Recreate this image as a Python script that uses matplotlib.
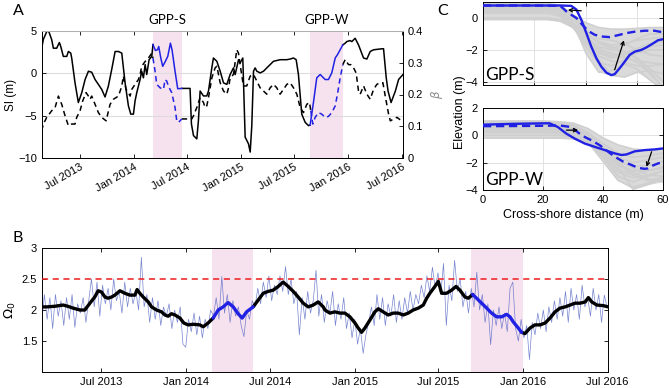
import numpy as np
import matplotlib
matplotlib.use('Agg')
import matplotlib.pyplot as plt
import matplotlib.dates as mdates
from matplotlib.transforms import blended_transform_factory
import datetime as dt

# ---------------- Panel A data (decimal years) ----------------
si_year = [2013.142, 2013.158, 2013.189, 2013.205, 2013.220, 2013.236, 2013.251, 2013.282, 2013.307, 2013.320,
           2013.344, 2013.376, 2013.391, 2013.413, 2013.422, 2013.453, 2013.484, 2013.516, 2013.547, 2013.578,
           2013.609, 2013.640, 2013.671, 2013.702, 2013.733, 2013.764, 2013.795, 2013.827, 2013.858, 2013.889,
           2013.920, 2013.951, 2013.973, 2013.998, 2014.013, 2014.029, 2014.060, 2014.075, 2014.091, 2014.107,
           2014.122, 2014.144, 2014.169,
           2014.180, 2014.203, 2014.222, 2014.234, 2014.253, 2014.271, 2014.296, 2014.318, 2014.343, 2014.358,
           2014.386, 2014.411, 2014.449,
           2014.526, 2014.539, 2014.558, 2014.589, 2014.604, 2014.620, 2014.651, 2014.682, 2014.698, 2014.729,
           2014.744, 2014.776, 2014.807, 2014.838, 2014.869, 2014.900, 2014.931, 2014.947, 2014.978, 2014.993,
           2015.018, 2015.040, 2015.071, 2015.087, 2015.102, 2015.118, 2015.133, 2015.149, 2015.180, 2015.211,
           2015.242, 2015.273, 2015.304, 2015.366, 2015.429, 2015.460, 2015.491, 2015.516, 2015.537, 2015.568,
           2015.600, 2015.631,
           2015.646, 2015.677, 2015.708, 2015.740, 2015.786, 2015.817, 2015.848, 2015.880, 2015.901, 2015.951,
           2015.973, 2015.988, 2016.019, 2016.035, 2016.066, 2016.097, 2016.144, 2016.175, 2016.206, 2016.237,
           2016.315, 2016.330, 2016.355, 2016.372, 2016.400, 2016.440, 2016.470, 2016.511]
si_value = [2.97, 4.03, 4.92, 5.05, 4.53, 3.95, 2.97, 2.97, 3.64, 3.17,
            2.0, 2.0, 2.58, 2.39, 1.81, -1.12, -3.45, -2.28, -0.73, 0.25,
            0.13, -0.73, -1.31, -1.9, -2.79, -1.51, 0.44, 2.58, 2.58, 2.39,
            -1.12, -3.84, -4.82, -4.82, -3.26, -2.28, -0.73, 0.25, -0.53, 1.03,
            -0.14, 1.61, 2.0,
            3.40, 2.70, 2.78, 3.17, 1.81, 0.83, 1.42, 2.0, 3.56, 2.78,
            0.25, -1.82, -1.78,
            -1.78, -5.99, -7.35, -7.74, -5.6, -2.09, -2.67, -2.67, -2.09, 0.64,
            1.81, 1.42, 0.25, -1.12, -1.31, -0.14, 0.64, -0.14, 1.61, 1.22,
            1.81, -7.54, -8.32, -9.30, -6.18, 0.25, 0.64, 0.25, 0.05, 0.25,
            0.64, 1.03, 1.42, 1.61, 1.61, 1.69, 1.81, 1.61, -0.14, -4.82,
            -5.79, -6.18,
            -6.10, -3.45, -0.53, -0.14, -0.73, -0.73, 0.05, 1.81, 2.20, 3.36,
            3.56, 3.75, 3.87, 3.75, 4.14, 3.36, 1.81, 1.69, 2.58, 2.78,
            2.90, 2.90, -0.53, -2.09, -3.45, -2.09, -0.73, -0.14]

beta_year = [2013.142, 2013.158, 2013.189, 2013.236, 2013.267, 2013.298, 2013.329, 2013.360, 2013.391, 2013.422,
             2013.453, 2013.469, 2013.500, 2013.525, 2013.556, 2013.578, 2013.593, 2013.609, 2013.640, 2013.671,
             2013.702, 2013.743, 2013.780, 2013.811, 2013.858, 2013.889, 2013.904, 2013.929, 2013.951, 2013.967,
             2013.982, 2014.013, 2014.044, 2014.060, 2014.075, 2014.107, 2014.138, 2014.169,
             2014.180, 2014.200, 2014.215, 2014.247, 2014.278, 2014.293, 2014.309, 2014.324, 2014.355, 2014.386,
             2014.402, 2014.418, 2014.449,
             2014.542, 2014.558, 2014.589, 2014.620, 2014.651, 2014.666, 2014.682, 2014.698, 2014.729, 2014.760,
             2014.776, 2014.807, 2014.838, 2014.869, 2014.885, 2014.900, 2014.931, 2014.962, 2014.978, 2014.993,
             2015.024, 2015.055, 2015.087, 2015.118, 2015.149, 2015.180, 2015.211, 2015.242, 2015.273, 2015.304,
             2015.335, 2015.366, 2015.397, 2015.429, 2015.460, 2015.491, 2015.522, 2015.553, 2015.584, 2015.615,
             2015.640,
             2015.652, 2015.671, 2015.693, 2015.724, 2015.755, 2015.786, 2015.817, 2015.848, 2015.880, 2015.901,
             2015.926, 2015.951,
             2015.973, 2016.004, 2016.026, 2016.051, 2016.075, 2016.097, 2016.113, 2016.144, 2016.175, 2016.206,
             2016.237, 2016.268, 2016.299, 2016.324, 2016.346, 2016.377, 2016.393, 2016.424, 2016.455, 2016.486,
             2016.511]
beta_value = [0.086, 0.107, 0.128, 0.149, 0.159, 0.195, 0.169, 0.133, 0.102, 0.107,
              0.107, 0.128, 0.149, 0.180, 0.206, 0.195, 0.185, 0.195, 0.169, 0.143,
              0.128, 0.117, 0.169, 0.185, 0.195, 0.226, 0.258, 0.216, 0.206, 0.195,
              0.216, 0.232, 0.247, 0.263, 0.289, 0.304, 0.315, 0.330,
              0.315, 0.273, 0.232, 0.221, 0.216, 0.247, 0.242, 0.226, 0.206, 0.159,
              0.117, 0.112, 0.123,
              0.123, 0.133, 0.159, 0.190, 0.175, 0.159, 0.164, 0.190, 0.252, 0.284,
              0.289, 0.237, 0.211, 0.201, 0.221, 0.252, 0.263, 0.341, 0.330, 0.294,
              0.227, 0.227, 0.258, 0.263, 0.242, 0.221, 0.211, 0.201, 0.221, 0.232,
              0.221, 0.201, 0.216, 0.232, 0.237, 0.221, 0.201, 0.159, 0.143, 0.169,
              0.175,
              0.149, 0.107, 0.128, 0.143, 0.138, 0.128, 0.131, 0.143, 0.164, 0.201,
              0.252, 0.294,
              0.310, 0.294, 0.294, 0.284, 0.268, 0.211, 0.201, 0.227, 0.201, 0.185,
              0.216, 0.232, 0.237, 0.237, 0.195, 0.138, 0.117, 0.123, 0.128, 0.120,
              0.117]

# storm periods (decimal years) as shaded in each panel
periods_A = [(2014.178, 2014.449), (2015.646, 2015.951)]
periods_B = [(2014.152, 2014.396), (2015.689, 2015.997)]
period_names = ['GPP-S', 'GPP-W']

# ---------------- Panel B data ----------------
omega_start = '2013-02-22'
omega_step_days = 6
omega_daily = [1.75, 2.25, 1.85, 2.20, 1.70, 2.25, 1.90, 2.15, 1.75, 2.20,
               1.85, 2.25, 1.72, 2.10, 1.95, 2.20, 1.80, 2.15, 2.50, 2.05,
               2.45, 1.90, 2.40, 2.10, 2.35, 2.00, 2.50, 2.15, 2.30, 1.95,
               2.45, 2.05, 2.35, 2.10, 2.30, 2.00, 2.85, 2.05, 2.25, 1.80,
               2.20, 1.85, 2.15, 1.75, 2.05, 1.90, 2.10, 1.70, 2.00, 1.80,
               2.05, 1.45, 1.40, 1.85, 1.65, 1.95, 1.60, 1.90, 1.55, 1.85,
               1.70, 2.00, 1.90, 2.20, 1.85, 2.54, 1.95, 2.25, 1.80, 2.15,
               1.90, 2.05, 1.75, 1.57, 2.00, 1.85, 2.15, 2.05, 2.35, 2.10,
               2.45, 2.20, 2.55, 2.15, 2.40, 2.25, 2.55, 2.30, 2.70, 2.25,
               2.50, 2.10, 2.30, 1.60, 2.20, 1.85, 2.30, 1.95, 2.15, 2.64,
               1.90, 2.25, 1.80, 2.15, 1.95, 2.30, 1.75, 2.10, 1.85, 2.20,
               1.70, 1.95, 1.55, 1.85, 1.45, 1.70, 1.30, 1.60, 1.80, 2.05,
               1.75, 2.25, 1.85, 2.20, 1.75, 2.10, 1.90, 2.25, 1.80, 2.15,
               1.85, 2.20, 1.95, 2.30, 2.00, 2.25, 2.10, 2.40, 2.20, 2.55,
               2.30, 2.69, 2.35, 2.60, 2.25, 2.75, 1.75, 2.40, 2.15, 2.80,
               2.30, 2.50, 2.05, 2.30, 1.95, 2.35, 2.05, 2.61, 2.00, 2.25,
               1.80, 2.10, 1.44, 2.00, 1.75, 2.05, 1.70, 1.95, 1.65, 2.35,
               2.45, 1.70, 1.50, 1.85, 1.55, 1.75, 1.20, 1.80, 1.60, 1.95,
               1.70, 2.00, 1.65, 2.05, 1.80, 2.15, 1.85, 2.20, 1.90, 2.30,
               1.80, 2.35, 2.00, 2.25, 1.85, 2.40, 2.05, 2.20, 1.90, 2.35,
               2.00, 2.25, 1.80, 2.24, 2.05]

omega_smooth_year = [2013.144, 2013.172, 2013.221, 2013.270, 2013.298, 2013.330, 2013.370, 2013.399, 2013.429, 2013.458,
                     2013.478, 2013.498, 2013.518, 2013.537, 2013.558, 2013.577, 2013.607, 2013.636, 2013.666, 2013.696,
                     2013.709, 2013.725, 2013.745, 2013.775, 2013.795, 2013.824, 2013.854, 2013.874, 2013.893, 2013.913,
                     2013.933, 2013.963, 2013.986, 2014.012, 2014.042, 2014.081, 2014.101, 2014.130, 2014.160, 2014.190,
                     2014.219, 2014.249, 2014.279, 2014.308, 2014.332, 2014.358, 2014.397, 2014.427, 2014.457, 2014.486,
                     2014.516, 2014.546, 2014.575, 2014.605, 2014.635, 2014.664, 2014.694, 2014.724, 2014.753, 2014.783,
                     2014.813, 2014.823, 2014.852, 2014.882, 2014.912, 2014.941, 2014.971, 2015.001, 2015.020, 2015.040,
                     2015.060, 2015.090, 2015.119, 2015.139, 2015.168, 2015.198, 2015.228, 2015.257, 2015.287, 2015.317,
                     2015.346, 2015.376, 2015.406, 2015.426, 2015.445, 2015.475, 2015.495, 2015.515, 2015.544, 2015.574,
                     2015.600, 2015.623, 2015.653, 2015.673, 2015.699, 2015.722, 2015.752, 2015.782, 2015.811, 2015.841,
                     2015.871, 2015.900, 2015.920, 2015.939, 2015.969, 2015.989, 2016.009, 2016.039, 2016.068, 2016.098,
                     2016.128, 2016.157, 2016.187, 2016.216, 2016.246, 2016.276, 2016.305, 2016.335, 2016.365, 2016.384,
                     2016.404, 2016.434, 2016.473, 2016.501]
omega_smooth = [2.05, 2.05, 2.06, 2.08, 2.06, 2.03, 2.00, 2.00, 2.11, 2.21,
                2.31, 2.29, 2.21, 2.19, 2.21, 2.24, 2.31, 2.27, 2.24, 2.24,
                2.33, 2.27, 2.21, 2.13, 2.05, 2.00, 1.97, 1.92, 1.90, 1.94,
                1.92, 1.87, 1.79, 1.76, 1.77, 1.76, 1.73, 1.79, 1.87, 2.00,
                2.05, 2.12, 2.05, 1.94, 1.87, 1.97, 2.05, 2.16, 2.27, 2.30,
                2.32, 2.38, 2.45, 2.38, 2.30, 2.21, 2.11, 2.05, 2.08, 2.13,
                2.05, 2.00, 1.95, 1.97, 1.95, 1.95, 1.89, 1.79, 1.71, 1.64,
                1.71, 1.84, 1.97, 2.02, 1.97, 1.92, 1.95, 1.95, 1.92, 1.95,
                2.00, 2.03, 2.08, 2.19, 2.27, 2.38, 2.46, 2.27, 2.27, 2.32,
                2.38, 2.32, 2.21, 2.19, 2.25, 2.19, 2.11, 2.03, 1.95, 1.89,
                1.89, 1.93, 1.89, 1.81, 1.71, 1.64, 1.62, 1.71, 1.76, 1.76,
                1.79, 1.87, 1.97, 2.03, 2.05, 2.08, 2.11, 2.11, 2.13, 2.20,
                2.13, 2.08, 2.07, 2.05]
omega_threshold = 2.5

# ---------------- Panel C data ----------------
xs_S = [0, 5, 10, 15, 20, 25, 30, 35, 40, 45, 50, 55, 60, 65, 70]
gray_S = [
    [0.85, 0.85, 0.85, 0.85, 0.85, 0.85, 0.70, 0.00, -1.00, -1.50, -1.70, -1.60, -1.40, -1.30, -1.20],
    [0.80, 0.80, 0.80, 0.80, 0.80, 0.80, 0.60, -0.30, -1.40, -2.20, -2.50, -2.30, -2.00, -1.80, -1.70],
    [0.70, 0.70, 0.70, 0.70, 0.70, 0.70, 0.50, -0.50, -1.80, -2.80, -3.00, -2.60, -2.20, -2.00, -2.00],
    [0.60, 0.60, 0.60, 0.60, 0.60, 0.55, 0.30, -0.60, -1.50, -2.00, -2.20, -2.40, -2.80, -3.50, -4.30],
    [0.50, 0.50, 0.50, 0.50, 0.50, 0.45, 0.20, -0.40, -1.20, -1.80, -2.00, -2.10, -2.50, -3.20, -4.00],
    [0.30, 0.30, 0.30, 0.30, 0.30, 0.30, 0.10, -0.60, -1.60, -2.40, -2.70, -2.80, -3.00, -3.00, -2.90],
    [0.00, 0.00, 0.00, 0.00, 0.00, 0.00, -0.10, -0.50, -1.20, -1.90, -2.30, -2.50, -2.70, -2.80, -2.90],
    [0.90, 0.90, 0.90, 0.90, 0.90, 0.90, 0.80, 0.20, -0.80, -1.60, -1.90, -1.70, -1.30, -1.00, -1.00],
    [0.75, 0.75, 0.75, 0.75, 0.75, 0.75, 0.55, -0.20, -2.20, -3.40, -3.30, -2.90, -3.20, -3.90, -4.50],
    [0.65, 0.65, 0.65, 0.65, 0.65, 0.65, 0.45, -0.40, -1.30, -2.60, -3.60, -3.70, -3.40, -3.30, -3.50],
    [-0.10, -0.10, -0.10, -0.10, -0.10, -0.10, -0.20, -0.60, -1.10, -1.50, -1.80, -2.10, -2.60, -3.40, -4.40],
    [0.55, 0.55, 0.55, 0.55, 0.55, 0.50, 0.35, -0.30, -1.00, -1.30, -1.40, -1.60, -2.00, -2.30, -2.40],
    [0.85, 0.85, 0.85, 0.85, 0.85, 0.85, 0.75, 0.20, -0.30, -0.60, -0.70, -0.70, -0.65, -0.60, -0.60],
    [0.40, 0.40, 0.40, 0.40, 0.40, 0.40, 0.25, -0.45, -1.40, -2.10, -2.40, -2.20, -1.90, -1.60, -1.50],
]
pre_S_x = [0, 10, 20, 30, 34.3, 36.3, 38.2, 40.2, 42.1, 44.1, 46.0, 48.0, 49.9, 51.2, 53.1, 55.1, 57.0, 59.0,
           61.6, 63.5, 66.1, 68.0, 70]
pre_S_z = [0.78, 0.78, 0.78, 0.78, 0.76, 0.53, -0.10, -0.95, -1.79, -2.53, -3.05, -3.43, -3.58, -3.52, -3.16,
           -2.74, -2.32, -2.11, -2.00, -1.85, -1.60, -1.40, -1.33]
post_S_x = [0, 10, 20, 30, 31.5, 32.5, 34.3, 36.3, 38.2, 40.8, 43.4, 46.0, 49.2, 52.5, 55.7, 59.0, 62.9, 66.7, 70]
post_S_z = [0.78, 0.78, 0.78, 0.76, 0.55, 0.40, 0.20, 0.00, -0.35, -0.80, -1.05, -1.16, -1.20, -1.08, -0.95,
            -0.86, -0.80, -0.80, -0.90]

xs_W = [0, 5, 10, 15, 20, 25, 30, 35, 40, 45, 50, 55, 60]
gray_W = [
    [1.05, 1.05, 1.05, 1.05, 1.05, 1.00, 0.90, 0.50, -0.20, -0.70, -1.00, -1.10, -1.00],
    [0.95, 0.95, 0.95, 0.95, 0.95, 0.90, 0.75, 0.20, -0.60, -1.30, -1.60, -1.50, -1.30],
    [0.85, 0.85, 0.85, 0.85, 0.85, 0.80, 0.60, 0.00, -1.00, -1.90, -2.30, -2.20, -1.90],
    [0.75, 0.75, 0.75, 0.75, 0.75, 0.70, 0.50, -0.20, -1.30, -2.50, -2.90, -2.60, -2.30],
    [0.60, 0.60, 0.60, 0.60, 0.60, 0.55, 0.35, -0.40, -1.60, -3.00, -3.40, -3.00, -2.60],
    [0.40, 0.40, 0.40, 0.40, 0.40, 0.35, 0.15, -0.50, -1.90, -3.30, -3.80, -3.50, -3.10],
    [0.20, 0.20, 0.20, 0.20, 0.20, 0.15, 0.00, -0.60, -1.50, -2.70, -3.10, -2.90, -2.60],
    [0.00, 0.00, 0.00, 0.00, 0.00, 0.00, -0.10, -0.60, -1.40, -2.20, -2.60, -2.60, -2.40],
    [-0.20, -0.20, -0.20, -0.20, -0.20, -0.20, -0.25, -0.60, -1.20, -2.00, -2.70, -3.20, -3.40],
    [0.90, 0.90, 0.90, 0.90, 0.90, 0.85, 0.70, 0.10, -0.80, -1.60, -2.00, -1.80, -1.60],
    [0.50, 0.50, 0.50, 0.50, 0.50, 0.45, 0.30, -0.30, -1.10, -2.30, -3.95, -3.60, -3.20],
    [0.70, 0.70, 0.70, 0.70, 0.70, 0.65, 0.45, -0.20, -1.00, -1.80, -2.40, -2.90, -3.00],
    [0.30, 0.30, 0.30, 0.30, 0.30, 0.25, 0.10, -0.40, -1.20, -2.10, -2.90, -3.30, -3.10],
]
pre_W_x = [0, 10, 20.6, 22.2, 25.0, 27.8, 30.6, 33.9, 37.2, 40.6, 43.9, 46.1, 47.8, 50.6, 53.9, 57.2, 60]
pre_W_z = [0.78, 0.84, 0.88, 0.88, 0.60, 0.12, -0.24, -0.60, -0.84, -1.08, -1.32, -1.44, -1.40, -1.17, -1.08,
           -1.03, -0.96]
post_W_x = [0, 10, 20, 25.6, 28.9, 30.6, 32.2, 33.9, 36.1, 38.9, 41.7, 43.9, 46.7, 49.4, 51.7, 53.9, 55.0,
            56.7, 58.3, 60]
post_W_z = [0.67, 0.68, 0.70, 0.72, 0.62, 0.40, 0.12, -0.12, -0.36, -0.72, -1.20, -1.56, -1.92, -2.16, -2.38,
            -2.45, -2.42, -2.20, -2.06, -1.95]

# ---------------- helpers ----------------
def yr2num(vals):
    out = []
    for v in np.atleast_1d(np.asarray(vals, float)):
        yi = int(np.floor(v))
        a = mdates.date2num(dt.datetime(yi, 1, 1))
        b = mdates.date2num(dt.datetime(yi + 1, 1, 1))
        out.append(a + (v - yi) * (b - a))
    return np.array(out)


def split_series(t, v, periods, tol=0.004):
    t = np.asarray(t, float)
    v = np.asarray(v, float)
    inside = np.zeros(len(t), bool)
    for s, e in periods:
        inside |= (t >= s - tol) & (t <= e + tol)
    black = v.copy()
    n = len(t)
    for i in range(n):
        if inside[i] and i > 0 and i < n - 1 and inside[i - 1] and inside[i + 1]:
            black[i] = np.nan
    blue = np.where(inside, v, np.nan)
    return black, blue


BLUE = '#2121e4'
PINK = '#f6e2ef'
GRAY_PROF = '#cfcfcf'
TICKFONT = 'Liberation Sans'
LABFONT = 'Lato'
plt.rcParams['font.family'] = [TICKFONT, 'DejaVu Sans']
plt.rcParams['axes.linewidth'] = 0.7
plt.rcParams['xtick.direction'] = 'in'
plt.rcParams['ytick.direction'] = 'in'
plt.rcParams['xtick.major.size'] = 3
plt.rcParams['ytick.major.size'] = 3
plt.rcParams['xtick.major.width'] = 0.6
plt.rcParams['ytick.major.width'] = 0.6
plt.rcParams['xtick.labelsize'] = 8
plt.rcParams['ytick.labelsize'] = 8

W, H = 669, 388
fig = plt.figure(figsize=(W / 100, H / 100), dpi=100)


def rect(l, t, r, b):
    return [l / W, (H - b) / H, (r - l) / W, (b - t) / H]


xlo = yr2num([2013.145])[0]
xhi_A = yr2num([2016.511])[0]
xhi_B = yr2num([2016.500])[0]
tick_dates = [mdates.date2num(dt.datetime(y, m, 1)) for (y, m) in
              [(2013, 7), (2014, 1), (2014, 7), (2015, 1), (2015, 7), (2016, 1), (2016, 7)]]
tick_labels = [mdates.num2date(d).strftime('%b %Y') for d in tick_dates]

# ---------------- Panel A ----------------
axA = fig.add_axes(rect(42, 31, 403, 158))
for (s, e) in periods_A:
    axA.axvspan(yr2num([s])[0], yr2num([e])[0], color=PINK, lw=0, zorder=0)
axA.set_ylim(-10, 5)
axA.set_yticks([-10, -5, 0, 5])
axA.yaxis.grid(True, color='#dcdcdc', lw=0.8, zorder=0.5)
axA.set_axisbelow(True)
tA = yr2num(si_year)
blk, blu = split_series(si_year, si_value, periods_A)
axA.plot(tA, blk, color='black', lw=1.1, zorder=3)
axA.plot(tA, blu, color=BLUE, lw=1.1, zorder=4)
axA.set_xlim(xlo, xhi_A)
axA.set_xticks(tick_dates)
axA.set_xticklabels(tick_labels, rotation=30, ha='right', rotation_mode='anchor')
axA.tick_params(axis='x', top=True, pad=3)
axA.set_ylabel('SI (m)', fontsize=8.5, labelpad=1)
axA.spines['top'].set_color('#b0b0b0')

axB2 = axA.twinx()
tb = yr2num(beta_year)
blk, blu = split_series(beta_year, beta_value, periods_A)
axB2.plot(tb, blk, color='black', lw=1.1, ls=(0, (3.5, 2.5)), zorder=3)
axB2.plot(tb, blu, color=BLUE, lw=1.1, ls=(0, (3.5, 2.5)), zorder=4)
axB2.set_ylim(0, 0.4)
axB2.set_yticks([0, 0.1, 0.2, 0.3, 0.4])
axB2.set_yticklabels(['0', '0.1', '0.2', '0.3', '0.4'])
axB2.set_xlim(xlo, xhi_A)
axB2.set_ylabel(r'$\beta$', fontsize=8.5, color='#888888', labelpad=4)
axB2.spines['top'].set_color('#b0b0b0')

trA = blended_transform_factory(axA.transData, axA.transAxes)
for (s, e), name in zip(periods_A, period_names):
    xc = yr2num([(s + e) / 2])[0]
    axA.text(xc, 1.04, name, transform=trA, ha='center', va='bottom', fontsize=9.5, family=LABFONT)

# ---------------- Panel B ----------------
axB = fig.add_axes(rect(42, 248, 608, 372))
for (s, e) in periods_B:
    axB.axvspan(yr2num([s])[0], yr2num([e])[0], color=PINK, lw=0, zorder=0)
t0 = mdates.date2num(dt.datetime.strptime(omega_start, '%Y-%m-%d'))
t_daily = t0 + omega_step_days * np.arange(len(omega_daily))
axB.plot(t_daily, omega_daily, color='#5566c4', lw=0.5, alpha=0.8, zorder=2)
axB.axhline(omega_threshold, color='#ee1c1c', lw=1.1, ls=(0, (4, 3)), zorder=3)
ts = yr2num(omega_smooth_year)
blk, blu = split_series(omega_smooth_year, omega_smooth, periods_B, tol=0.01)
axB.plot(ts, blk, color='black', lw=2.4, zorder=4, solid_capstyle='round')
axB.plot(ts, blu, color=BLUE, lw=2.4, zorder=5, solid_capstyle='round')
axB.set_xlim(xlo, xhi_B)
axB.set_ylim(1.0, 3.0)
axB.set_yticks([1.5, 2, 2.5, 3])
axB.set_yticklabels(['1.5', '2', '2.5', '3'])
axB.set_xticks(tick_dates)
axB.set_xticklabels(tick_labels)
axB.tick_params(top=True, right=True)
axB.set_ylabel(r'$\Omega_0$', fontsize=9.5, labelpad=3)

# ---------------- Panel C ----------------
def arrow(ax, x0, y0, x1, y1):
    ax.annotate('', xy=(x1, y1), xytext=(x0, y0),
                arrowprops=dict(arrowstyle='->', color='black', lw=0.9, shrinkA=0, shrinkB=0,
                                mutation_scale=6), zorder=6)


def draw_profiles(ax, xs, profiles):
    arr = np.array(profiles, float)
    ax.fill_between(xs, arr.min(axis=0), arr.max(axis=0), color='#dadada', lw=0, zorder=1)
    for prof in profiles:
        ax.plot(xs, prof, color=GRAY_PROF, lw=1.2, zorder=2)


axC1 = fig.add_axes(rect(483, 2, 663, 85))
draw_profiles(axC1, xs_S, gray_S)
axC1.plot(pre_S_x, pre_S_z, color=BLUE, lw=1.7, zorder=4)
axC1.plot(post_S_x, post_S_z, color=BLUE, lw=1.7, ls=(0, (3.5, 2)), zorder=4)
arrow(axC1, 38.2, 0.45, 33.0, 0.5)
arrow(axC1, 51.2, -3.25, 54.8, -1.4)
axC1.set_xlim(0, 70)
axC1.set_ylim(-4.2, 1.0)
axC1.set_xticks([20, 40, 60])
axC1.set_xticklabels([])
axC1.set_yticks([-4, -2, 0])
axC1.grid(True, color='#e2e2e2', lw=0.7, zorder=0)
axC1.set_axisbelow(True)
axC1.tick_params(top=True, right=True)
axC1.text(0.01, 0.03, 'GPP-S', transform=axC1.transAxes, fontsize=12.5, family=LABFONT,
          ha='left', va='bottom', zorder=7)

axC2 = fig.add_axes(rect(483, 108, 663, 190))
draw_profiles(axC2, xs_W, gray_W)
axC2.plot(pre_W_x, pre_W_z, color=BLUE, lw=1.7, zorder=4)
axC2.plot(post_W_x, post_W_z, color=BLUE, lw=1.7, ls=(0, (3.5, 2)), zorder=4)
arrow(axC2, 27.8, 0.38, 31.7, 0.38)
arrow(axC2, 56.2, -1.2, 54.5, -2.3)
axC2.set_xlim(0, 60)
axC2.set_ylim(-4, 2)
axC2.set_xticks([0, 20, 40, 60])
axC2.set_yticks([-4, -2, 0, 2])
axC2.grid(True, color='#e2e2e2', lw=0.7, zorder=0)
axC2.set_axisbelow(True)
axC2.tick_params(top=True, right=True)
axC2.set_xlabel('Cross-shore distance (m)', fontsize=9, labelpad=3)
axC2.text(0.01, 0.03, 'GPP-W', transform=axC2.transAxes, fontsize=12.5, family=LABFONT,
          ha='left', va='bottom', zorder=7)

fig.text(460 / W, 1 - 112 / H, 'Elevation (m)', rotation=90, ha='center', va='center', fontsize=9)

# panel letters
fig.text(13 / W, 1 - 4 / H, 'A', fontsize=11.5, family=LABFONT, ha='left', va='top')
fig.text(13 / W, 1 - 231 / H, 'B', fontsize=11.5, family=LABFONT, ha='left', va='top')
fig.text(437 / W, 1 - 4 / H, 'C', fontsize=11.5, family=LABFONT, ha='left', va='top')

fig.savefig('out.png', dpi=100)
